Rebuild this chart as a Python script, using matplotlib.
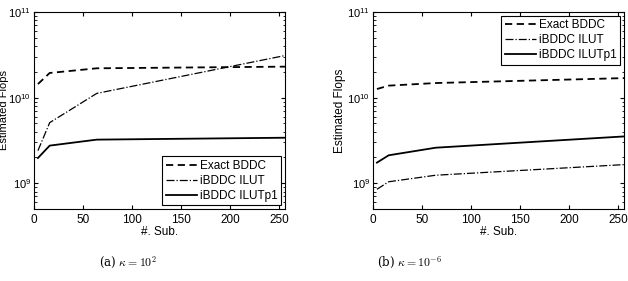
import matplotlib
matplotlib.use("Agg")
import matplotlib.pyplot as plt

plt.rcParams['font.family'] = ['Liberation Sans', 'DejaVu Sans']
plt.rcParams['mathtext.fontset'] = 'cm'

# number of subdomains
n_sub = [4, 16, 64, 256]

# (a) kappa = 1e2
exact_a = [1.44e10, 1.94e10, 2.2e10, 2.3e10]
ilut_a = [2.4e9, 5.1e9, 1.12e10, 3.1e10]
ilutp1_a = [1.97e9, 2.75e9, 3.23e9, 3.4e9]

# (b) kappa = 1e-6
exact_b = [1.26e10, 1.38e10, 1.48e10, 1.69e10]
ilut_b = [8.5e8, 1.04e9, 1.24e9, 1.65e9]
ilutp1_b = [1.74e9, 2.12e9, 2.6e9, 3.52e9]

labels = ['Exact BDDC', 'iBDDC ILUT', 'iBDDC ILUTp1']
captions = [r'(a) $\kappa = 10^{2}$', r'(b) $\kappa = 10^{-6}$']

W, H = 628, 281
fig = plt.figure(figsize=(W / 100, H / 100), dpi=100)

panels = [
    (34, exact_a, ilut_a, ilutp1_a, 'lower right', 128, 9),
    (373, exact_b, ilut_b, ilutp1_b, 'upper right', 410, 346),
]

for i, (x0, ex, il, ip, loc, cx, ylx) in enumerate(panels):
    ax = fig.add_axes([x0 / W, (H - 209) / H, 251 / W, 197 / H])
    ax.semilogy(n_sub, ex, 'k', ls=(0, (4, 2.5)), lw=1.3, label=labels[0])
    ax.semilogy(n_sub, il, 'k-.', lw=0.9, label=labels[1])
    ax.semilogy(n_sub, ip, 'k-', lw=1.3, label=labels[2])
    ax.set_xlim(0, 256)
    ax.set_ylim(5e8, 1e11)
    ax.set_xticks([0, 50, 100, 150, 200, 250])
    ax.tick_params(which='both', direction='in', top=True, right=True,
                   labelsize=8.5)
    ax.tick_params(axis='y', labelsize=8, pad=2)
    ax.tick_params(which='major', length=3)
    ax.tick_params(which='minor', length=1.8)
    ax.set_xlabel('#. Sub.', fontsize=8.5, labelpad=0)
    ax.set_ylabel('Estimated Flops', fontsize=8.5 if i else 8)
    ax.yaxis.set_label_coords((ylx - x0) / 251, 0.5)
    for s in ax.spines.values():
        s.set_linewidth(0.8)
    leg = ax.legend(loc=loc, fontsize=8.5, fancybox=False, framealpha=1,
                    edgecolor='k', borderaxespad=0.3, handlelength=2.6,
                    handletextpad=0.3, borderpad=0.3, labelspacing=0.25)
    leg.get_frame().set_linewidth(0.8)
    fig.text(cx / W, 1 - 263 / H, captions[i], ha='center', va='center',
             fontsize=8.5, family='serif')

fig.savefig('out.png', dpi=100)
